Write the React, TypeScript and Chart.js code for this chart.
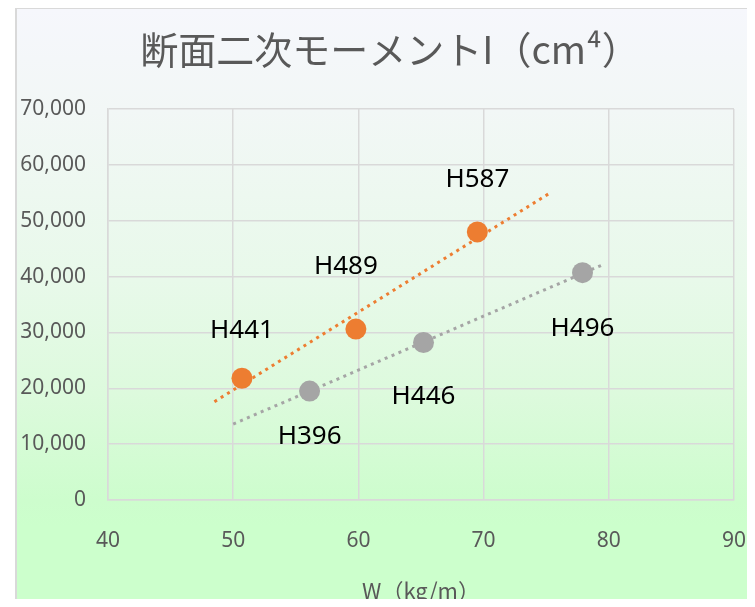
import React, { useEffect, useRef } from "react";
import { Chart, registerables } from "chart.js";

Chart.register(...registerables);

// ---- data ----
const chartTitle = "断面二次モーメントI（cm⁴）";
const xAxisTitle = "W（kg/m）";

const orangeW = [50.7, 59.8, 69.5];
const orangeI = [21800, 30600, 48000];
const orangeLabels = ["H441", "H489", "H587"];

const grayW = [56.1, 65.2, 77.9];
const grayI = [19500, 28200, 40700];
const grayLabels = ["H396", "H446", "H496"];

const orangeTrendW = [48.5, 75.4];
const orangeTrendI = [17600, 55100];
const grayTrendW = [50.0, 79.5];
const grayTrendI = [13600, 42100];

const xMin = 40;
const xMax = 90;
const xStep = 10;
const yMin = 0;
const yMax = 70000;
const yStep = 10000;

// ---- styles ----
const ORANGE = "#ED7D31";
const GRAY = "#A5A5A5";
const GRID = "#D9D9D9";
const TEXT = "#595959";
const orangeLabelOffsets = [[0, -48], [-10, -62], [0, -52]];
const grayLabelOffsets = [[0, 46], [0, 54], [0, 56]];

const toPoints = (xs: number[], ys: number[]) => xs.map((x, i) => ({ x, y: ys[i] }));

const labelPlugin = {
  id: "pointLabels",
  afterDatasetsDraw(chart: any) {
    const ctx = chart.ctx;
    ctx.save();
    ctx.font = "26px 'Noto Sans'";
    ctx.fillStyle = "#000000";
    ctx.textAlign = "center";
    ctx.textBaseline = "middle";
    chart.data.datasets.forEach((ds: any, i: number) => {
      if (!ds.pointLabels) return;
      const meta = chart.getDatasetMeta(i);
      meta.data.forEach((el: any, j: number) => {
        const off = ds.labelOffsets[j];
        ctx.fillText(ds.pointLabels[j], el.x + off[0], el.y + off[1]);
      });
    });
    ctx.restore();
  },
};

const titlePlugin = {
  id: "customTitle",
  afterDraw(chart: any) {
    const ctx = chart.ctx;
    ctx.save();
    ctx.font = "38px 'Noto Sans CJK JP'";
    ctx.fillStyle = TEXT;
    ctx.textAlign = "center";
    ctx.textBaseline = "middle";
    ctx.fillText(chartTitle, 390, 50);
    ctx.restore();
  },
};

export default function App() {
  const canvasRef = useRef<HTMLCanvasElement | null>(null);

  useEffect(() => {
    if (!canvasRef.current) return;
    const chart = new Chart(canvasRef.current, {
      type: "scatter",
      data: {
        datasets: [
          {
            label: "orange",
            data: toPoints(orangeW, orangeI),
            backgroundColor: ORANGE,
            borderColor: ORANGE,
            pointRadius: 10.5,
            pointHoverRadius: 10.5,
            borderWidth: 0,
            order: 0,
            pointLabels: orangeLabels,
            labelOffsets: orangeLabelOffsets,
          } as any,
          {
            label: "gray",
            data: toPoints(grayW, grayI),
            backgroundColor: GRAY,
            borderColor: GRAY,
            pointRadius: 10.5,
            pointHoverRadius: 10.5,
            borderWidth: 0,
            order: 0,
            pointLabels: grayLabels,
            labelOffsets: grayLabelOffsets,
          } as any,
          {
            label: "orangeTrend",
            data: toPoints(orangeTrendW, orangeTrendI),
            showLine: true,
            borderColor: ORANGE,
            backgroundColor: ORANGE,
            borderWidth: 3,
            borderDash: [3, 4.5],
            pointRadius: 0,
            order: 1,
          },
          {
            label: "grayTrend",
            data: toPoints(grayTrendW, grayTrendI),
            showLine: true,
            borderColor: GRAY,
            backgroundColor: GRAY,
            borderWidth: 3,
            borderDash: [3, 4.5],
            pointRadius: 0,
            order: 1,
          },
        ],
      },
      options: {
        responsive: false,
        animation: false,
        layout: { padding: { top: 109, right: 21, bottom: 0, left: 0 } },
        plugins: {
          legend: { display: false },
          tooltip: { enabled: false },
          title: { display: false },
        },
        scales: {
          x: {
            type: "linear",
            min: xMin,
            max: xMax,
            afterFit: (s: any) => {
              s.height = 107;
              s.paddingLeft = 0;
              s.paddingRight = 0;
            },
            ticks: {
              stepSize: xStep,
              padding: 28,
              color: TEXT,
              font: { family: "'Noto Sans'", size: 21 },
            },
            grid: { color: GRID, lineWidth: 1.5, drawTicks: false },
            border: { color: GRID, width: 1.5 },
            title: {
              display: true,
              text: xAxisTitle,
              color: TEXT,
              font: { family: "'Noto Sans CJK JP'", size: 22 },
              padding: { top: 0, bottom: 3 },
            },
          },
          y: {
            type: "linear",
            min: yMin,
            max: yMax,
            afterFit: (s: any) => {
              s.width = 108;
            },
            ticks: {
              stepSize: yStep,
              padding: 22,
              color: TEXT,
              font: { family: "'Noto Sans'", size: 21 },
              callback: (v: any) => Number(v).toLocaleString("en-US"),
            },
            grid: { color: GRID, lineWidth: 1.5, drawTicks: false },
            border: { color: GRID, width: 1.5 },
          },
        },
      },
      plugins: [labelPlugin, titlePlugin],
    } as any);
    return () => chart.destroy();
  }, []);

  return (
    <div
      style={{
        position: "relative",
        width: 755,
        height: 607,
        margin: -8,
        overflow: "hidden",
        background: "#ffffff",
      }}
    >
      <div
        style={{
          position: "absolute",
          left: 15,
          top: 7,
          width: 770,
          height: 630,
          border: "2px solid #D9D9D9",
          background:
            "linear-gradient(to bottom, #F6F7FC 0%, #F2F7F6 16%, #E8F9EA 43%, #DDFADD 61%, #CDFDCD 78%, #CCFFCC 82%, #CCFFCC 100%)",
        }}
      />
      <canvas
        ref={canvasRef}
        width={755}
        height={607}
        style={{ position: "absolute", left: 0, top: 0, width: 755, height: 607 }}
      />
    </div>
  );
}
